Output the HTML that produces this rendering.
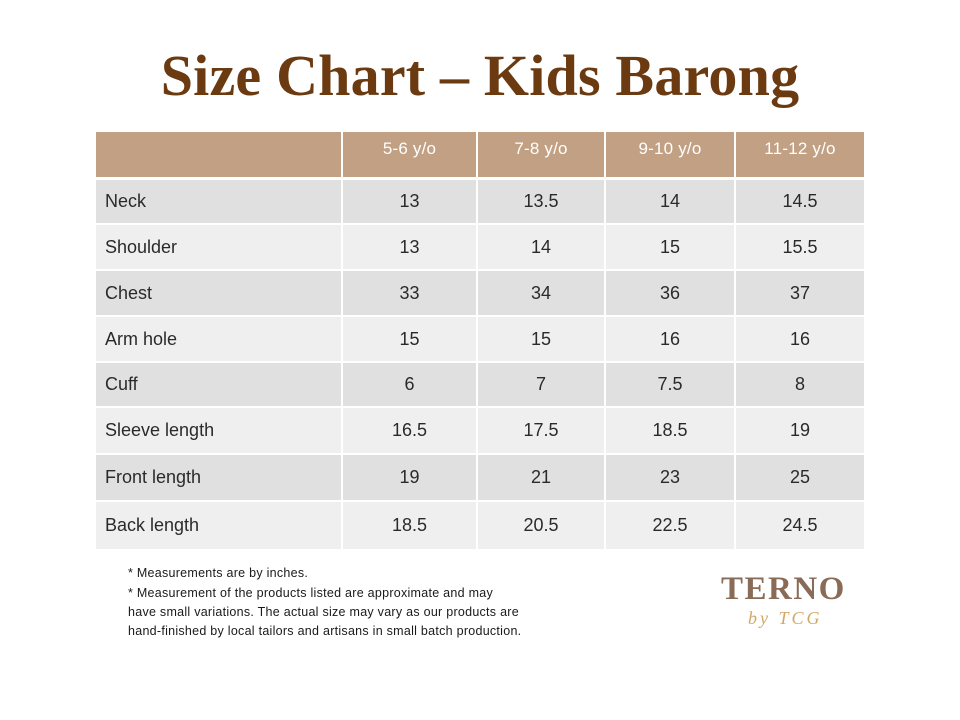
<!DOCTYPE html>
<html><head><meta charset="utf-8">
<style>
html,body{margin:0;padding:0;background:#fff;}
body{width:960px;height:720px;position:relative;overflow:hidden;font-family:"Liberation Sans",Arial,sans-serif;}
.t{position:absolute;left:0;width:960px;top:47px;text-align:center;font-family:"Liberation Serif",serif;font-weight:bold;font-size:58px;line-height:58px;color:#6b3a10;white-space:nowrap;letter-spacing:0.2px;}
.c{position:absolute;display:flex;align-items:center;justify-content:center;font-size:18px;color:#2a2a2a;box-sizing:border-box;}
.l{justify-content:flex-start;padding-left:9px;}
.h{background:#c1a083;color:#fff;font-size:17px;align-items:flex-start;padding-top:7px;letter-spacing:0.2px;}
.d{background:#e0e0e0;}
.g{background:#efefef;}
.note{position:absolute;left:128px;top:564px;font-size:12.5px;line-height:19px;color:#1a1a1a;white-space:nowrap;letter-spacing:0.27px;}
.logo{position:absolute;left:721px;top:573px;font-family:"Liberation Serif",serif;font-weight:bold;font-size:33px;line-height:33px;color:#8a6b57;letter-spacing:1.5px;}
.by{position:absolute;left:748px;top:608px;font-family:"Liberation Serif",serif;font-style:italic;font-size:18px;color:#d2a866;letter-spacing:3px;}
</style></head><body>
<div class="t">Size Chart – Kids Barong</div>

<!-- header -->
<div class="c h" style="left:96px;top:132px;width:245px;height:45px;"></div>
<div class="c h" style="left:343px;top:132px;width:133px;height:45px;">5-6 y/o</div>
<div class="c h" style="left:478px;top:132px;width:126px;height:45px;">7-8 y/o</div>
<div class="c h" style="left:606px;top:132px;width:128px;height:45px;">9-10 y/o</div>
<div class="c h" style="left:736px;top:132px;width:128px;height:45px;">11-12 y/o</div>

<!-- Neck -->
<div class="c l d" style="left:96px;top:180px;width:245px;height:43px;">Neck</div>
<div class="c d" style="left:343px;top:180px;width:133px;height:43px;">13</div>
<div class="c d" style="left:478px;top:180px;width:126px;height:43px;">13.5</div>
<div class="c d" style="left:606px;top:180px;width:128px;height:43px;">14</div>
<div class="c d" style="left:736px;top:180px;width:128px;height:43px;">14.5</div>
<!-- Shoulder -->
<div class="c l g" style="left:96px;top:225px;width:245px;height:44px;">Shoulder</div>
<div class="c g" style="left:343px;top:225px;width:133px;height:44px;">13</div>
<div class="c g" style="left:478px;top:225px;width:126px;height:44px;">14</div>
<div class="c g" style="left:606px;top:225px;width:128px;height:44px;">15</div>
<div class="c g" style="left:736px;top:225px;width:128px;height:44px;">15.5</div>
<!-- Chest -->
<div class="c l d" style="left:96px;top:271px;width:245px;height:44px;">Chest</div>
<div class="c d" style="left:343px;top:271px;width:133px;height:44px;">33</div>
<div class="c d" style="left:478px;top:271px;width:126px;height:44px;">34</div>
<div class="c d" style="left:606px;top:271px;width:128px;height:44px;">36</div>
<div class="c d" style="left:736px;top:271px;width:128px;height:44px;">37</div>
<!-- Arm hole -->
<div class="c l g" style="left:96px;top:317px;width:245px;height:44px;">Arm hole</div>
<div class="c g" style="left:343px;top:317px;width:133px;height:44px;">15</div>
<div class="c g" style="left:478px;top:317px;width:126px;height:44px;">15</div>
<div class="c g" style="left:606px;top:317px;width:128px;height:44px;">16</div>
<div class="c g" style="left:736px;top:317px;width:128px;height:44px;">16</div>
<!-- Cuff -->
<div class="c l d" style="left:96px;top:363px;width:245px;height:43px;">Cuff</div>
<div class="c d" style="left:343px;top:363px;width:133px;height:43px;">6</div>
<div class="c d" style="left:478px;top:363px;width:126px;height:43px;">7</div>
<div class="c d" style="left:606px;top:363px;width:128px;height:43px;">7.5</div>
<div class="c d" style="left:736px;top:363px;width:128px;height:43px;">8</div>
<!-- Sleeve length -->
<div class="c l g" style="left:96px;top:408px;width:245px;height:45px;">Sleeve length</div>
<div class="c g" style="left:343px;top:408px;width:133px;height:45px;">16.5</div>
<div class="c g" style="left:478px;top:408px;width:126px;height:45px;">17.5</div>
<div class="c g" style="left:606px;top:408px;width:128px;height:45px;">18.5</div>
<div class="c g" style="left:736px;top:408px;width:128px;height:45px;">19</div>
<!-- Front length -->
<div class="c l d" style="left:96px;top:455px;width:245px;height:45px;">Front length</div>
<div class="c d" style="left:343px;top:455px;width:133px;height:45px;">19</div>
<div class="c d" style="left:478px;top:455px;width:126px;height:45px;">21</div>
<div class="c d" style="left:606px;top:455px;width:128px;height:45px;">23</div>
<div class="c d" style="left:736px;top:455px;width:128px;height:45px;">25</div>
<!-- Back length -->
<div class="c l g" style="left:96px;top:502px;width:245px;height:47px;">Back length</div>
<div class="c g" style="left:343px;top:502px;width:133px;height:47px;">18.5</div>
<div class="c g" style="left:478px;top:502px;width:126px;height:47px;">20.5</div>
<div class="c g" style="left:606px;top:502px;width:128px;height:47px;">22.5</div>
<div class="c g" style="left:736px;top:502px;width:128px;height:47px;">24.5</div>

<div class="note">* Measurements are by inches.<br><span style="display:inline-block;margin-top:1px;">* Measurement of the products listed are approximate and may</span><br>have small variations. The actual size may vary as our products are<br>hand-finished by local tailors and artisans in small batch production.</div>

<div class="logo">TERNO</div>
<div class="by">by TCG</div>
</body></html>
